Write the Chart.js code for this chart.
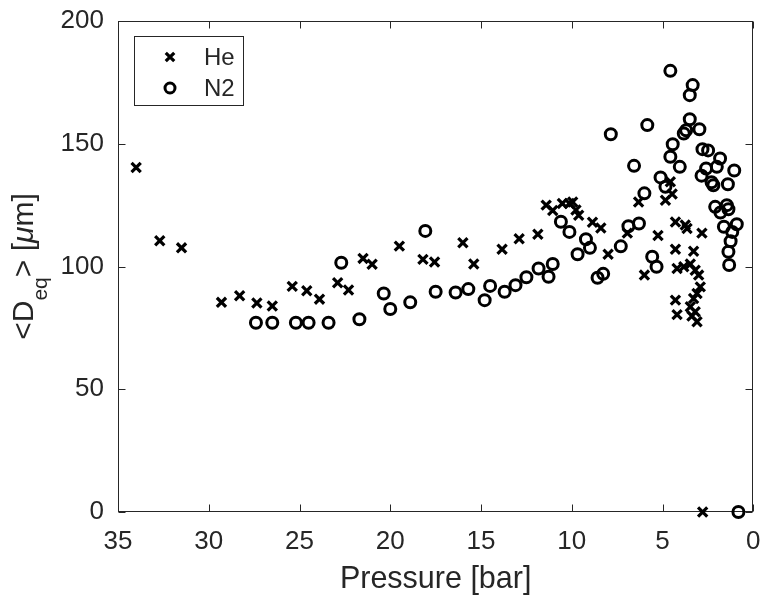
<!DOCTYPE html>
<html><head><meta charset="utf-8">
<script src="https://cdn.jsdelivr.net/npm/chart.js@4/dist/chart.umd.min.js"></script>
<style>html,body{margin:0;padding:0;background:#fff;overflow:hidden}</style>
</head><body>
<canvas id="c" width="763" height="595"></canvas>
<script>
// ---- data ----
const seriesNames = ['He', 'N2'];
const hePressure = [34.0,32.7,31.5,29.3,28.3,27.35,26.5,25.4,24.6,23.9,22.9,22.3,21.5,21.0,19.5,18.2,17.56,16.0,15.4,13.84,12.9,11.87,11.41,11.05,10.52,10.13,9.95,9.77,9.62,8.86,8.4,8.0,6.94,6.32,6.0,5.25,4.84,4.57,4.47,4.29,3.75,3.65,2.83,4.29,3.29,4.2,3.83,3.47,3.2,3.01,2.92,3.1,3.29,4.29,4.2,3.47,3.2,3.38,3.1,2.79];
const heDeq      = [140.3,110.5,107.6,85.4,88.1,85.1,83.9,91.9,90.1,86.7,93.4,90.4,103.3,100.9,108.3,102.9,101.8,109.7,101.0,107.0,111.3,113.1,125.0,122.8,125.7,125.7,126.3,123.0,120.9,118.0,115.7,105.0,113.6,126.3,96.5,112.6,127.0,134.5,129.5,118.1,116.9,115.5,113.6,107.0,106.2,99.2,99.9,101.0,98.5,96.5,91.7,89.0,87.0,86.3,80.4,83.6,81.6,79.8,77.5,0];
const n2Pressure = [27.4,26.5,25.2,24.5,23.4,22.7,21.7,20.36,20.0,18.9,18.07,17.5,16.4,15.7,14.8,14.5,13.7,13.1,12.5,11.83,11.28,11.05,10.6,10.13,9.68,9.22,9.0,8.58,8.27,7.85,7.3,6.88,6.3,6.57,6.0,5.84,5.57,5.33,5.11,4.84,4.57,4.57,4.44,4.05,3.83,3.7,3.5,3.5,3.34,2.97,2.8,2.49,1.83,2.01,2.6,1.05,2.85,2.3,2.2,1.4,2.1,1.46,1.37,1.81,1.62,0.91,1.16,1.25,1.37,1.33,0.82];
const n2Deq      = [77.1,77.1,77.1,77.1,77.1,101.5,78.5,89.0,82.7,85.4,114.5,89.7,89.4,90.8,86.3,92.1,89.7,92.4,95.6,99.2,95.8,101.0,118.2,114.1,105.0,111.1,107.6,95.4,97.0,153.9,108.2,116.4,117.5,141.0,129.8,157.6,104.0,99.9,136.3,132.5,179.7,144.7,149.8,140.6,154.2,155.5,160.0,169.8,173.9,155.9,147.8,147.3,144.0,140.6,139.9,139.1,137.0,134.3,133.1,133.5,124.3,125.0,123.3,122.0,116.2,117.2,114.1,110.3,106.0,100.6,0];
const xTickValues = [35,30,25,20,15,10,5,0];
const yTickValues = [0,50,100,150,200];
const xTitle = 'Pressure [bar]';

// ---- styling ----
const AX = '#262626';
const FONT = '"Liberation Sans", Arial, sans-serif';
const pts = (xs, ys) => xs.map((x, i) => ({x, y: ys[i]}));

const framePlugin = {
  id: 'frame',
  beforeDatasetsDraw(chart) {
    const {ctx, chartArea: a, scales: {x, y}} = chart;
    ctx.save();
    ctx.strokeStyle = AX; ctx.lineWidth = 1;
    const L = Math.round(a.left) + 0.5, R = Math.round(a.right) - 0.5;
    const T = Math.round(a.top) + 0.5, B = Math.round(a.bottom) - 0.5;
    ctx.strokeRect(L, T, R - L, B - T);
    const tl = 7;
    ctx.beginPath();
    xTickValues.forEach(v => {
      const px = Math.round(x.getPixelForValue(v)) + 0.5;
      ctx.moveTo(px, B); ctx.lineTo(px, B - tl);
      ctx.moveTo(px, T); ctx.lineTo(px, T + tl);
    });
    yTickValues.forEach(v => {
      const py = Math.round(y.getPixelForValue(v)) + 0.5;
      ctx.moveTo(L, py); ctx.lineTo(L + tl, py);
      ctx.moveTo(R, py); ctx.lineTo(R - tl, py);
    });
    ctx.stroke();
    ctx.restore();
  },
  afterDraw(chart) {
    const {ctx, chartArea: a} = chart;
    ctx.save();
    ctx.fillStyle = AX;
    // x title
    ctx.font = '30.5px ' + FONT;
    ctx.textAlign = 'center'; ctx.textBaseline = 'alphabetic';
    ctx.fillText(xTitle, (a.left + a.right) / 2, 588);
    // y title with subscript
    const parts = [
      {t: '<D', f: '30px ' + FONT, dy: 0},
      {t: 'eq', f: '21px ' + FONT, dy: 14},
      {t: '> [', f: '30px ' + FONT, dy: 0},
      {t: 'μ', f: 'italic 30px ' + FONT, dy: 0},
      {t: 'm]', f: '30px ' + FONT, dy: 0}
    ];
    let total = 0;
    parts.forEach(p => { ctx.font = p.f; p.w = ctx.measureText(p.t).width; total += p.w; });
    ctx.translate(33, (a.top + a.bottom) / 2);
    ctx.rotate(-Math.PI / 2);
    ctx.textAlign = 'left';
    let cx = -total / 2;
    parts.forEach(p => { ctx.font = p.f; ctx.fillText(p.t, cx, p.dy); cx += p.w; });
    ctx.restore();

    // legend
    ctx.save();
    ctx.fillStyle = '#fff';
    ctx.fillRect(134.5, 36.5, 109, 69);
    ctx.strokeStyle = AX; ctx.lineWidth = 1;
    ctx.strokeRect(134.5, 36.5, 109, 69);
    chart.data.datasets.forEach((ds, i) => {
      const yy = 57 + i * 31;
      ctx.strokeStyle = '#000'; ctx.fillStyle = 'rgba(0,0,0,0)';
      ctx.lineWidth = ds.borderWidth;
      Chart.helpers.drawPoint(ctx, {pointStyle: ds.pointStyle, radius: ds.pointRadius - 0.5, borderWidth: ds.borderWidth, rotation: 0}, 170, yy);
      ctx.fillStyle = AX;
      ctx.font = '24px ' + FONT;
      ctx.textAlign = 'left'; ctx.textBaseline = 'middle';
      ctx.fillText(ds.label, 204, yy + 1);
    });
    ctx.restore();
  }
};

new Chart(document.getElementById('c'), {
  type: 'scatter',
  data: {
    datasets: [
      {label: seriesNames[0], data: pts(hePressure, heDeq), pointStyle: 'crossRot', pointRadius: 6.5, pointHoverRadius: 6.5,
       borderWidth: 3.2, borderColor: '#000', backgroundColor: '#000', clip: false},
      {label: seriesNames[1], data: pts(n2Pressure, n2Deq), pointStyle: 'circle', pointRadius: 5.5, pointHoverRadius: 5.5,
       borderWidth: 3, borderColor: '#000', backgroundColor: 'rgba(0,0,0,0)', clip: false}
    ]
  },
  options: {
    responsive: false, animation: false, devicePixelRatio: 1,
    layout: {padding: {top: 21, right: 6, left: 0, bottom: 0}},
    plugins: {legend: {display: false}, tooltip: {enabled: false}},
    scales: {
      x: {
        type: 'linear', reverse: true, min: 0, max: 35,
        afterBuildTicks: s => { s.ticks = xTickValues.map(v => ({value: v})); },
        afterFit: s => { s.height = 83; s.paddingLeft = 0; s.paddingRight = 0; },
        grid: {display: false, drawTicks: false}, border: {display: false},
        ticks: {color: AX, font: {family: FONT, size: 26}, padding: 14, maxRotation: 0, autoSkip: false}
      },
      y: {
        type: 'linear', min: 0, max: 200,
        afterBuildTicks: s => { s.ticks = yTickValues.map(v => ({value: v})); },
        afterFit: s => { s.width = 118; s.paddingTop = 0; s.paddingBottom = 0; },
        grid: {display: false, drawTicks: false}, border: {display: false},
        ticks: {color: AX, font: {family: FONT, size: 26}, padding: 14, autoSkip: false}
      }
    }
  },
  plugins: [framePlugin]
});
</script>
</body></html>
